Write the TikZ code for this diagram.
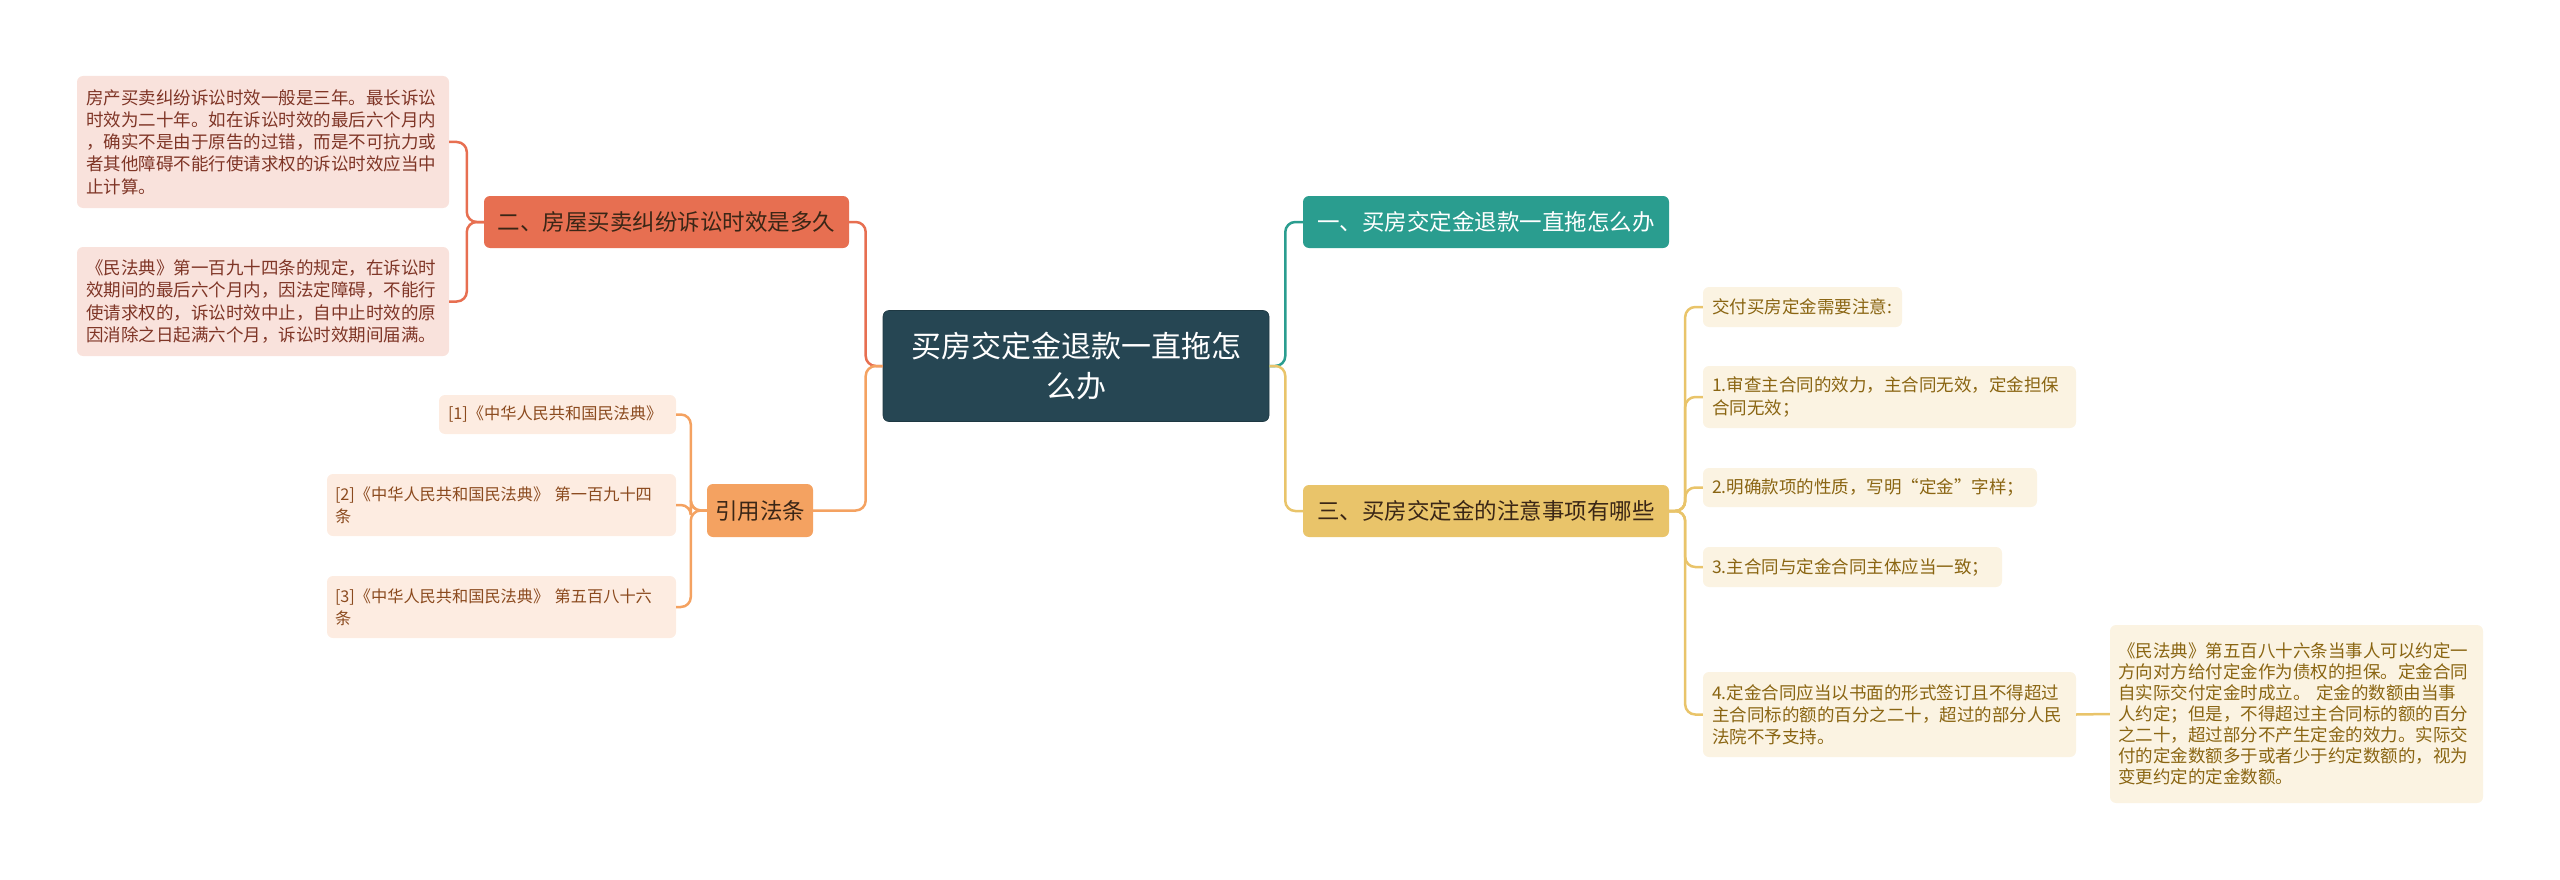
\documentclass[tikz,border=0pt]{standalone}
\usepackage{fontspec}
\setmainfont{Noto Sans CJK SC}
\definecolor{cmain}{HTML}{264653}
\definecolor{cteal}{HTML}{2A9D8F}
\definecolor{cgold}{HTML}{E9C46A}
\definecolor{ccoral}{HTML}{E76F51}
\definecolor{corange}{HTML}{F4A261}
\definecolor{fcoral}{HTML}{F9E2DC}
\definecolor{tcoral}{HTML}{7F3526}
\definecolor{forange}{HTML}{FDECE1}
\definecolor{torange}{HTML}{8B4A1E}
\definecolor{fgold}{HTML}{FBF3E2}
\definecolor{tgold}{HTML}{8A6512}
\definecolor{tdark}{HTML}{3A2616}
\tikzset{
  box/.style={rounded corners=6pt, inner sep=0pt, align=left},
  mainbox/.style={box, fill=cmain, draw=cmain!80!black, line width=0.6pt, text=white, align=center,
    font=\fontsize{30}{40}\selectfont},
  branch/.style={box, align=center, font=\fontsize{22.5}{28}\selectfont},
  leaf/.style={box, font=\fontsize{17.5}{22.2}\selectfont},
  refleaf/.style={box, fill=forange, text=torange, font=\fontsize{16.2}{21.7}\selectfont},
  link/.style={line width=2.5pt, rounded corners=10pt},
}
\begin{document}
\begin{tikzpicture}[x=1pt,y=-1pt]
\useasboundingbox (0,0) rectangle (2560,880);

% central
\node[mainbox, minimum width=386, minimum height=111, text width=370] (c) at (1076,366) {买房交定金退款一直拖怎\\么办};

% branches
\node[branch, fill=cteal, text=white, minimum width=366, minimum height=52] (b1) at (1486,222) {一、买房交定金退款一直拖怎么办};
\node[branch, fill=cgold, text=tdark, minimum width=366, minimum height=52] (b3) at (1486,511) {三、买房交定金的注意事项有哪些};
\node[branch, fill=ccoral, text=tdark, minimum width=365, minimum height=52] (b2) at (666.5,222) {二、房屋买卖纠纷诉讼时效是多久};
\node[branch, fill=corange, text=tdark, minimum width=106, minimum height=53] (b4) at (760,510.5) {引用法条};

% left leaves (branch 2)
\node[leaf, fill=fcoral, text=tcoral, minimum width=372, minimum height=132, text width=354] (l1) at (263,142) {房产买卖纠纷诉讼时效一般是三年。最长诉讼\\时效为二十年。如在诉讼时效的最后六个月内\\，确实不是由于原告的过错，而是不可抗力或\\者其他障碍不能行使请求权的诉讼时效应当中\\止计算。};
\node[leaf, fill=fcoral, text=tcoral, minimum width=372, minimum height=109, text width=354] (l2) at (263,301.5) {《民法典》第一百九十四条的规定，在诉讼时\\效期间的最后六个月内，因法定障碍，不能行\\使请求权的，诉讼时效中止，自中止时效的原\\因消除之日起满六个月，诉讼时效期间届满。};

% reference leaves
\node[refleaf, minimum width=237, minimum height=39, text width=219] (r1) at (557.5,414.5) {\mbox{[1]《中华人民共和国民法典》}};
\node[refleaf, minimum width=349, minimum height=62, text width=333] (r2) at (501.5,505) {\mbox{[2]《中华人民共和国民法典》 第一百九十四}\\条};
\node[refleaf, minimum width=349, minimum height=62, text width=333] (r3) at (501.5,607) {\mbox{[3]《中华人民共和国民法典》 第五百八十六}\\条};

% right leaves (branch 3)
\node[leaf, fill=fgold, text=tgold, minimum width=199, minimum height=40, text width=181] (g0) at (1802.5,307) {交付买房定金需要注意:};
\node[leaf, fill=fgold, text=tgold, minimum width=373, minimum height=62, text width=355] (g1) at (1889.5,397) {1.审查主合同的效力，主合同无效，定金担保\\合同无效；};
\node[leaf, fill=fgold, text=tgold, minimum width=334, minimum height=39, text width=316] (g2) at (1870,487.5) {2.明确款项的性质，写明“定金”字样；};
\node[leaf, fill=fgold, text=tgold, minimum width=299, minimum height=40, text width=281] (g3) at (1852.5,567) {3.主合同与定金合同主体应当一致；};
\node[leaf, fill=fgold, text=tgold, minimum width=373, minimum height=85, text width=355] (g4) at (1889.5,714.5) {4.定金合同应当以书面的形式签订且不得超过\\主合同标的额的百分之二十，超过的部分人民\\法院不予支持。};
\node[leaf, fill=fgold, text=tgold, minimum width=373, minimum height=178, text width=357, font=\fontsize{17.5}{21.1}\selectfont] (g5) at (2296.5,714) {《民法典》第五百八十六条当事人可以约定一\\方向对方给付定金作为债权的担保。定金合同\\自实际交付定金时成立。 定金的数额由当事\\人约定；但是，不得超过主合同标的额的百分\\之二十，超过部分不产生定金的效力。实际交\\付的定金数额多于或者少于约定数额的，视为\\变更约定的定金数额。};

% connectors from central
\draw[link, ccoral] (c.west) -- ++(-17,0) |- (b2.east);
\draw[link, corange] (c.west) -- ++(-17,0) |- (b4.east);
\draw[link, cteal] (c.east) -- ++(16,0) |- (b1.west);
\draw[link, cgold] (c.east) -- ++(16,0) |- (b3.west);

% branch 2 leaves
\draw[link, ccoral] (b2.west) -- ++(-17,0) |- (l1.east);
\draw[link, ccoral] (b2.west) -- ++(-17,0) |- (l2.east);

% reference leaves
\draw[link, corange] (b4.west) -- ++(-16,0) |- (r1.east);
\draw[link, corange] (b4.west) -- ++(-16,0) |- (r2.east);
\draw[link, corange] (b4.west) -- ++(-16,0) |- (r3.east);

% branch 3 leaves
\draw[link, cgold] (b3.east) -- ++(16,0) |- (g0.west);
\draw[link, cgold] (b3.east) -- ++(16,0) |- (g1.west);
\draw[link, cgold] (b3.east) -- ++(16,0) |- (g2.west);
\draw[link, cgold] (b3.east) -- ++(16,0) |- (g3.west);
\draw[link, cgold] (b3.east) -- ++(16,0) |- (g4.west);
\draw[link, cgold] (g4.east) -- (g5.west);
\end{tikzpicture}
\end{document}
